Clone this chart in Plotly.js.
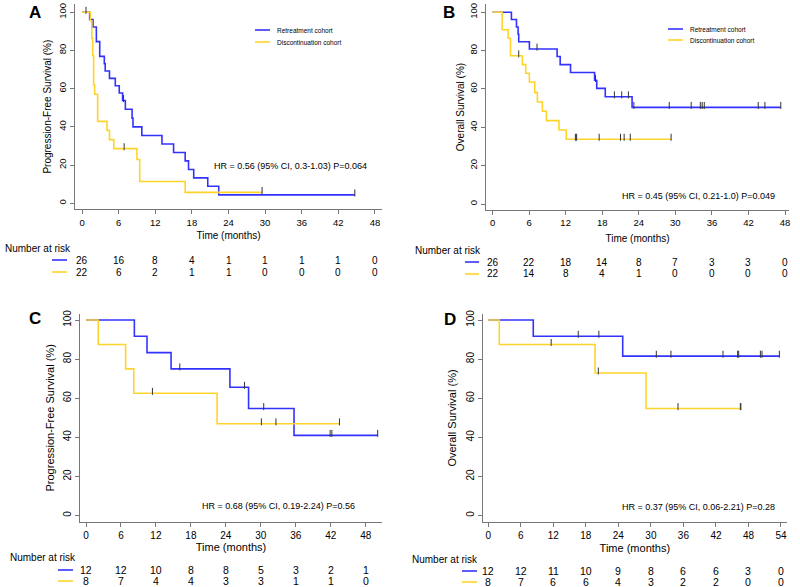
<!DOCTYPE html>
<html><head><meta charset="utf-8">
<script src="https://cdn.plot.ly/plotly-3.0.1.min.js"></script>
<style>html,body{margin:0;padding:0;background:#fff}#chart{width:800px;height:587px}</style>
</head><body><div id="chart"></div>
<script>
// ---------- DATA ----------
const seriesNames = ['Retreatment cohort', 'Discontinuation cohort'];
const panelLetters = ['A', 'B', 'C', 'D'];
const yTitles = ['Progression-Free Survival (%)', 'Overall Survival (%)', 'Progression-Free Survival (%)', 'Overall Survival (%)'];
const xTitle = 'Time (months)';
const hrTexts = [
  'HR = 0.56 (95% CI, 0.3-1.03) P=0.064',
  'HR = 0.45 (95% CI, 0.21-1.0) P=0.049',
  'HR = 0.68 (95% CI, 0.19-2.24) P=0.56',
  'HR = 0.37 (95% CI, 0.06-2.21) P=0.28'
];
const riskLabel = 'Number at risk';
const yTicks = [0, 20, 40, 60, 80, 100];
const riskTimes48 = [0, 6, 12, 18, 24, 30, 36, 42, 48];
const riskTimes54 = [0, 6, 12, 18, 24, 30, 36, 42, 48, 54];

// Panel A: progression-free survival, all patients
const A_ret_t = [0, 1.25, 1.8, 2.35, 2.9, 3.65, 3.8, 4.5, 5.45, 6.1, 6.65, 7.1, 8.2, 8.35, 9.8, 13.1, 15.0, 16.9, 17.45, 18.3, 20.6, 22.4, 44.7];
const A_ret_s = [100, 96.2, 92.3, 84.6, 76.9, 73.1, 69.2, 65.4, 61.5, 57.7, 53.8, 49.2, 44.6, 40.0, 35.5, 31.0, 26.6, 22.2, 17.7, 13.3, 8.9, 4.4, 4.4];
const A_ret_c = [0.65, 6.8, 44.7];
const A_dis_t = [0, 1.36, 1.6, 1.75, 1.9, 2.07, 2.56, 4.1, 4.5, 5.2, 9.0, 9.45, 16.9, 29.5];
const A_dis_s = [100, 95.5, 86.4, 77.3, 62.0, 57.1, 42.9, 38.1, 33.3, 28.6, 22.9, 11.4, 5.7, 5.7];
const A_dis_c = [6.9, 29.5];
const A_risk_ret = [26, 16, 8, 4, 1, 1, 1, 1, 0];
const A_risk_dis = [22, 6, 2, 1, 1, 0, 0, 0, 0];

// Panel B: overall survival, all patients
const B_ret_t = [0, 3.1, 3.93, 4.2, 4.3, 6.05, 10.6, 11.1, 12.8, 16.75, 17.1, 18.5, 22.9, 47.3];
const B_ret_s = [100, 96.2, 92.3, 88.5, 84.6, 80.8, 76.9, 72.7, 68.6, 64.5, 60.3, 55.9, 50.4, 50.4];
const B_ret_c = [7.3, 16.9, 20.0, 21.2, 22.3, 23.2, 29.0, 32.6, 34.1, 34.4, 34.75, 43.6, 44.7, 47.3];
const B_dis_t = [0, 1.58, 2.56, 2.95, 4.9, 5.45, 6.05, 6.93, 7.36, 8.18, 8.84, 10.9, 12.1, 29.3];
const B_dis_s = [100, 90.9, 86.4, 77.3, 72.7, 68.2, 63.6, 58.1, 53.2, 48.4, 43.5, 38.6, 33.8, 33.8];
const B_dis_c = [4.3, 13.6, 13.8, 17.5, 21.0, 21.6, 22.6, 29.3];
const B_risk_ret = [26, 22, 18, 14, 8, 7, 3, 3, 0];
const B_risk_dis = [22, 14, 8, 4, 1, 0, 0, 0, 0];

// Panel C: progression-free survival, subgroup
const C_ret_t = [0, 8.3, 10.47, 14.6, 24.7, 27.9, 35.7, 50.06];
const C_ret_s = [100, 91.7, 83.3, 75.0, 65.6, 54.7, 41.0, 41.0];
const C_ret_c = [16.1, 27.2, 30.5, 41.9, 42.2, 50.06];
const C_dis_t = [0, 2.1, 6.8, 8.2, 22.5, 43.5];
const C_dis_s = [100, 87.5, 75.0, 62.5, 46.9, 46.9];
const C_dis_c = [11.4, 30.1, 32.6, 43.5];
const C_risk_ret = [12, 12, 10, 8, 8, 5, 3, 2, 1];
const C_risk_dis = [8, 7, 4, 4, 3, 3, 1, 1, 0];

// Panel D: overall survival, subgroup
const D_ret_t = [0, 8.3, 24.8, 53.7];
const D_ret_s = [100, 91.7, 81.5, 81.5];
const D_ret_c = [16.6, 20.4, 31.0, 33.7, 43.3, 46.0, 46.2, 50.2, 50.5, 53.7];
const D_dis_t = [0, 2.03, 19.7, 29.1, 46.6];
const D_dis_s = [100, 87.5, 72.9, 54.7, 54.7];
const D_dis_c = [11.6, 20.3, 35.0, 46.5, 46.6];
const D_risk_ret = [12, 12, 11, 10, 9, 8, 6, 6, 3, 0];
const D_risk_dis = [8, 7, 6, 6, 4, 3, 2, 2, 0, 0];

// ---------- STYLE / GEOMETRY ----------
const W = 800, H = 587;
const FONT = 'Liberation Sans, Arial, Helvetica, sans-serif';
const BLUE = '#3232ff', YELLOW = '#ffd42a', AXIS = '#777777';
const fx = p => p / W;
const fy = p => 1 - p / H;

const panels = [
  {ret: [A_ret_t, A_ret_s, A_ret_c], dis: [A_dis_t, A_dis_s, A_dis_c], risk: [A_risk_ret, A_risk_dis], rt: riskTimes48,
   xd: [75, 382], yd: [4, 209.3], xr: [-1.15, 49.15], yr: [-3.14, 104.3],
   letter: [35, 12], hr: [290, 166], legend: [255, 30, 42], riskLab: [3, 248], rows: [260, 272], rline: [52, 67],
   tf: 9.5, tt: 10, rf: 10, sx: 5, sy: 3},
  {ret: [B_ret_t, B_ret_s, B_ret_c], dis: [B_dis_t, B_dis_s, B_dis_c], risk: [B_risk_ret, B_risk_dis], rt: riskTimes48,
   xd: [486, 789], yd: [4, 210], xr: [-1.07, 48.65], yr: [-3.13, 104.3],
   letter: [449, 12], hr: [698, 196], legend: [668, 29, 40], riskLab: [413, 250], rows: [262, 274], rline: [465, 479],
   tf: 9.5, tt: 10, rf: 10, sx: 7, sy: 1},
  {ret: [C_ret_t, C_ret_s, C_ret_c], dis: [C_dis_t, C_dis_s, C_dis_c], risk: [C_risk_ret, C_risk_dis], rt: riskTimes48,
   xd: [80, 382], yd: [314, 521.7], xr: [-1.03, 50.8], yr: [-3.17, 103.07],
   letter: [35, 318], hr: [278, 506], legend: null, riskLab: [8, 557], rows: [570, 581], rline: [58, 73],
   tf: 10, tt: 11, rf: 10.5, sx: 3, sy: 5},
  {ret: [D_ret_t, D_ret_s, D_ret_c], dis: [D_dis_t, D_dis_s, D_dis_c], risk: [D_risk_ret, D_risk_dis], rt: riskTimes54,
   xd: [482.7, 787], yd: [314, 522], xr: [-1.03, 55.11], yr: [-3.32, 103.07],
   letter: [450, 319], hr: [698, 507], legend: null, riskLab: [410, 559], rows: [571, 582], rline: [462, 477],
   tf: 10, tt: 11, rf: 10.5, sx: 4, sy: 5}
];

function survAt(t, times, vals) {
  let v = vals[0];
  for (let i = 0; i < times.length; i++) { if (times[i] <= t) v = vals[i]; }
  return v;
}

const traces = [];
const annotations = [];
const shapes = [];
const layout = {
  width: W, height: H, margin: {l: 0, r: 0, t: 0, b: 0},
  paper_bgcolor: '#fff', plot_bgcolor: '#fff', showlegend: false,
  font: {family: FONT, color: '#000'}
};

panels.forEach((p, i) => {
  const n = i === 0 ? '' : String(i + 1);
  const xa = 'x' + n, ya = 'y' + n;
  layout['xaxis' + n] = {
    domain: [fx(p.xd[0]), fx(p.xd[1])], range: p.xr, anchor: ya,
    showline: true, linecolor: AXIS, linewidth: 1, mirror: false,
    ticks: 'outside', ticklen: 4, tickcolor: AXIS, tickwidth: 1,
    tickmode: 'array', tickvals: p.rt, ticktext: p.rt.map(String),
    tickfont: {size: p.tf, color: '#000'}, showgrid: false, zeroline: false, fixedrange: true,
    title: {text: xTitle, font: {size: p.tt, color: '#000'}, standoff: p.sx}
  };
  layout['yaxis' + n] = {
    domain: [fy(p.yd[1]), fy(p.yd[0])], range: p.yr, anchor: xa,
    showline: true, linecolor: AXIS, linewidth: 1,
    ticks: 'outside', ticklen: 4, tickcolor: AXIS, tickwidth: 1,
    tickmode: 'array', tickvals: yTicks, ticktext: yTicks.map(String), tickangle: -90,
    tickfont: {size: p.tf, color: '#000'}, showgrid: false, zeroline: false, fixedrange: true,
    title: {text: yTitles[i], font: {size: p.tt, color: '#000'}, standoff: p.sy}
  };

  const groups = [[p.ret, BLUE, seriesNames[0]], [p.dis, YELLOW, seriesNames[1]]];
  groups.forEach(([g, col, name]) => {
    traces.push({type: 'scatter', mode: 'lines', x: g[0], y: g[1], xaxis: xa, yaxis: ya,
      line: {color: col, width: 1.6, shape: 'hv'}, name: name, hoverinfo: 'skip'});
  });
  groups.forEach(([g, col, name]) => {
    traces.push({type: 'scatter', mode: 'markers', x: g[2], y: g[2].map(t => survAt(t, g[0], g[1]) + 1.0),
      xaxis: xa, yaxis: ya, name: name + ' (censored)', hoverinfo: 'skip',
      marker: {symbol: 'line-ns', size: 5, line: {color: '#333', width: 1}}});
  });

  annotations.push({xref: 'paper', yref: 'paper', x: fx(p.letter[0]), y: fy(p.letter[1]),
    text: '<b>' + panelLetters[i] + '</b>', showarrow: false, xanchor: 'center', yanchor: 'middle',
    font: {size: 17, family: FONT, color: '#000'}});
  annotations.push({xref: 'paper', yref: 'paper', x: fx(p.hr[0]), y: fy(p.hr[1]), text: hrTexts[i],
    showarrow: false, xanchor: 'center', yanchor: 'middle', font: {size: 9, color: '#000'}});
  if (p.legend) {
    const [lx, y1, y2] = p.legend;
    [[y1, BLUE, seriesNames[0]], [y2, YELLOW, seriesNames[1]]].forEach(([yy, col, txt]) => {
      shapes.push({type: 'line', xref: 'paper', yref: 'paper', x0: fx(lx), x1: fx(lx + 15), y0: fy(yy), y1: fy(yy),
        line: {color: col, width: 1.6}});
      annotations.push({xref: 'paper', yref: 'paper', x: fx(lx + 20), y: fy(yy), text: txt, showarrow: false,
        xanchor: 'left', yanchor: 'middle', font: {size: 6.5, color: '#000'}});
    });
  }
  annotations.push({xref: 'paper', yref: 'paper', x: fx(p.riskLab[0]), y: fy(p.riskLab[1]), text: riskLabel,
    showarrow: false, xanchor: 'left', yanchor: 'middle', font: {size: 10, color: '#000'}});
  [[p.risk[0], BLUE, p.rows[0]], [p.risk[1], YELLOW, p.rows[1]]].forEach(([vals, col, ry]) => {
    shapes.push({type: 'line', xref: 'paper', yref: 'paper', x0: fx(p.rline[0]), x1: fx(p.rline[1]), y0: fy(ry), y1: fy(ry),
      line: {color: col, width: 1.6}});
    vals.forEach((v, k) => {
      annotations.push({xref: xa, yref: 'paper', x: p.rt[k], y: fy(ry), text: String(v), showarrow: false,
        xanchor: 'center', yanchor: 'middle', font: {size: p.rf, color: '#000'}});
    });
  });
});

layout.annotations = annotations;
layout.shapes = shapes;
Plotly.newPlot('chart', traces, layout, {staticPlot: true, displayModeBar: false});
</script>
</body></html>
